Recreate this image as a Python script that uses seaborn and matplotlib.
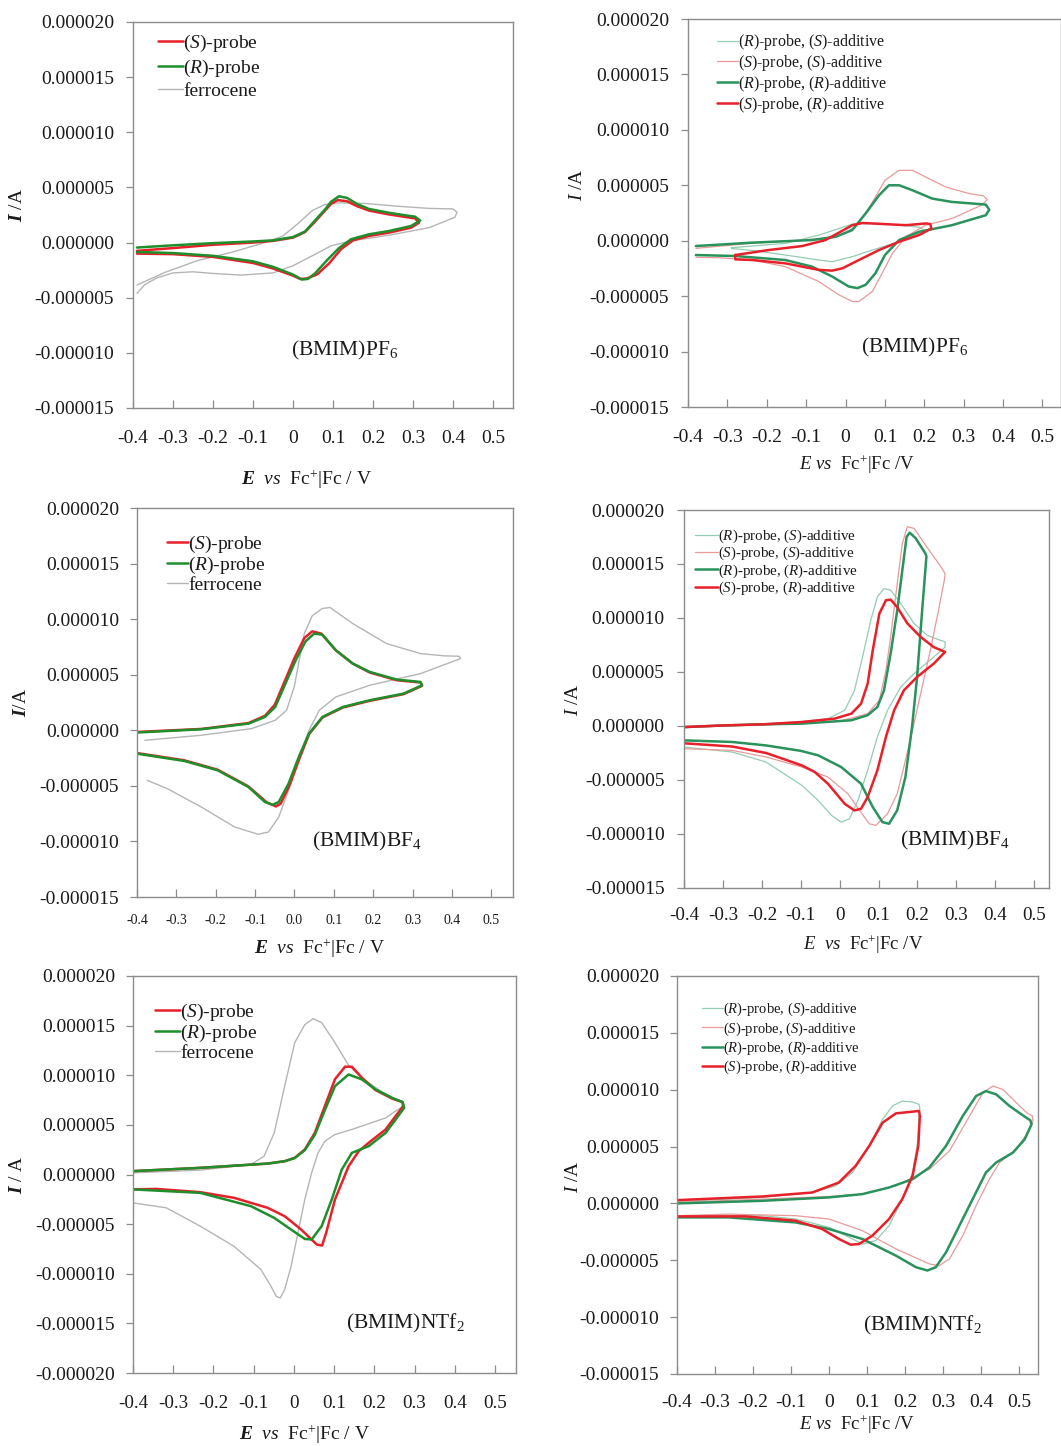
import numpy as np
import matplotlib
matplotlib.use("Agg")
import matplotlib.pyplot as plt
import seaborn as sns

# ---------------- data: E in V vs Fc+|Fc, I in microampere ----------------
# (BMIM)PF6, probes alone
pf6_S_E = [-0.39, -0.30, -0.20, -0.10, -0.05, 0.00, 0.03, 0.055, 0.08, 0.095, 0.112, 0.135, 0.16, 0.19, 0.24,
           0.285, 0.305, 0.315, 0.295, 0.24, 0.19, 0.15, 0.12, 0.09, 0.06, 0.035, 0.018, 0.00, -0.05, -0.10,
           -0.20, -0.30, -0.39]
pf6_S_I = [-0.75, -0.5, -0.2, 0.0, 0.15, 0.45, 0.95, 1.9, 2.9, 3.5, 3.85, 3.75, 3.3, 2.9, 2.55, 2.3, 2.2, 1.8,
           1.35, 0.9, 0.6, 0.2, -0.6, -1.9, -2.9, -3.25, -3.3, -3.0, -2.35, -1.85, -1.3, -1.05, -1.0]
pf6_R_E = [-0.39, -0.30, -0.20, -0.10, -0.05, 0.00, 0.03, 0.055, 0.08, 0.095, 0.115, 0.135, 0.16, 0.19, 0.24,
           0.285, 0.305, 0.318, 0.295, 0.24, 0.19, 0.145, 0.115, 0.085, 0.055, 0.037, 0.022, 0.00, -0.05, -0.10,
           -0.20, -0.30, -0.39]
pf6_R_I = [-0.45, -0.25, -0.05, 0.10, 0.20, 0.50, 1.00, 2.00, 3.00, 3.70, 4.20, 4.05, 3.50, 3.05, 2.70, 2.45,
           2.35, 2.00, 1.50, 1.05, 0.75, 0.30, -0.50, -1.60, -2.80, -3.30, -3.35, -2.90, -2.20, -1.70, -1.20,
           -0.95, -0.85]
pf6_fc_E = [-0.39, -0.32, -0.24, -0.15, -0.07, -0.025, 0.015, 0.048, 0.08, 0.113, 0.18, 0.26, 0.34, 0.40, 0.41,
            0.405, 0.34, 0.24, 0.145, 0.095, 0.048, 0.0, -0.05, -0.13, -0.20, -0.25, -0.30, -0.34, -0.37, -0.39]
pf6_fc_I = [-3.85, -2.7, -1.65, -0.85, 0.0, 0.6, 1.8, 2.9, 3.45, 3.6, 3.55, 3.3, 3.1, 3.05, 2.75,
            2.3, 1.35, 0.67, 0.15, -0.3, -1.2, -2.1, -2.75, -2.95, -2.8, -2.65, -2.75, -3.2, -3.8, -4.6]

# (BMIM)PF6, probe + additive
pf6_RS_E = [-0.29, -0.153, -0.068, -0.017, 0.017, 0.068, 0.144, 0.19, 0.20,
            0.186, 0.136, 0.068, 0.017, -0.034, -0.068, -0.153, -0.23, -0.29]
pf6_RS_I = [-0.63, -0.24, 0.5, 1.1, 1.5, 1.56, 1.4, 1.2, 0.9,
            0.66, -0.09, -0.84, -1.44, -1.89, -1.74, -1.29, -0.9, -0.7]
pf6_SS_E = [-0.38, -0.24, -0.11, -0.025, 0.025, 0.055, 0.08, 0.10, 0.136, 0.17, 0.203, 0.254, 0.314, 0.35, 0.36,
            0.345, 0.27, 0.203, 0.153, 0.119, 0.093, 0.068, 0.034, 0.017, -0.017, -0.068, -0.153, -0.237, -0.322,
            -0.38]
pf6_SS_I = [-0.69, -0.24, 0.06, 0.3, 1.2, 2.7, 4.2, 5.45, 6.35, 6.35, 5.75, 4.85, 4.25, 4.05, 3.7,
            3.2, 2.0, 1.4, 0.36, -1.14, -2.93, -4.58, -5.48, -5.48, -4.88, -3.68, -2.34, -1.74, -1.53, -1.5]
pf6_RR_E = [-0.38, -0.24, -0.085, -0.025, 0.017, 0.051, 0.085, 0.11, 0.136, 0.17, 0.22, 0.27, 0.356, 0.365,
            0.356, 0.27, 0.186, 0.136, 0.10, 0.076, 0.051, 0.03, 0.008, -0.034, -0.085, -0.153, -0.28, -0.38]
pf6_RR_I = [-0.48, -0.18, 0.06, 0.36, 0.96, 2.46, 4.1, 5.0, 5.0, 4.55, 3.8, 3.5, 3.26, 2.8,
            2.3, 1.4, 0.8, 0.06, -1.29, -2.93, -3.98, -4.28, -4.13, -3.23, -2.34, -1.74, -1.38, -1.29]
pf6_SR_E = [-0.28, -0.195, -0.11, -0.051, -0.008, 0.017, 0.042, 0.10, 0.153, 0.205, 0.215,
            0.218, 0.186, 0.136, 0.085, 0.034, -0.008, -0.034, -0.068, -0.153, -0.237, -0.28, -0.28]
pf6_SR_I = [-1.29, -0.84, -0.48, 0.06, 0.9, 1.4, 1.6, 1.5, 1.4, 1.56, 1.5,
            1.1, 0.5, -0.09, -0.84, -1.74, -2.49, -2.7, -2.63, -2.04, -1.74, -1.68, -1.29]

# (BMIM)BF4, probes alone
bf4_S_E = [-0.40, -0.237, -0.117, -0.075, -0.05, -0.025, 0.0, 0.025, 0.045, 0.068, 0.105, 0.148, 0.191, 0.26, 0.32,
           0.324, 0.277, 0.191, 0.123, 0.071, 0.037, 0.013, -0.012, -0.035, -0.047, -0.07, -0.117, -0.195, -0.28,
           -0.40]
bf4_S_I = [-0.15, 0.12, 0.65, 1.3, 2.3, 4.4, 6.5, 8.3, 8.9, 8.7, 7.2, 6.0, 5.2, 4.5, 4.3,
           4.0, 3.25, 2.65, 2.05, 1.15, -0.35, -2.5, -4.9, -6.6, -6.85, -6.5, -5.05, -3.55, -2.7, -2.05]
bf4_R_E = [-0.40, -0.237, -0.117, -0.075, -0.049, -0.023, 0.003, 0.028, 0.05, 0.071, 0.105, 0.148, 0.191, 0.26,
           0.32, 0.324, 0.277, 0.191, 0.123, 0.071, 0.037, 0.011, -0.015, -0.04, -0.055, -0.075, -0.117, -0.195,
           -0.28, -0.40]
bf4_R_I = [-0.2, 0.09, 0.6, 1.2, 2.1, 4.2, 6.3, 8.0, 8.7, 8.6, 7.2, 6.0, 5.25, 4.56, 4.35,
           4.05, 3.3, 2.7, 2.1, 1.2, -0.3, -2.4, -4.8, -6.45, -6.7, -6.45, -5.1, -3.6, -2.76, -2.1]
bf4_fc_E = [-0.38, -0.237, -0.109, -0.049, -0.02, 0.0, 0.012, 0.025, 0.045, 0.07, 0.09, 0.12, 0.148, 0.234, 0.32,
            0.38, 0.418, 0.422, 0.32, 0.191, 0.105, 0.063, 0.037, 0.011, -0.015, -0.04, -0.066, -0.092, -0.152,
            -0.237, -0.323, -0.374]
bf4_fc_I = [-0.9, -0.45, 0.15, 0.9, 1.8, 4.0, 6.3, 8.7, 10.3, 10.95, 11.05, 10.3, 9.6, 7.8, 6.9,
            6.7, 6.66, 6.45, 5.1, 4.05, 3.0, 1.8, 0.0, -2.4, -5.4, -7.8, -9.15, -9.36, -8.7, -6.9, -5.25, -4.5]

# (BMIM)BF4, probe + additive
bf4_RS_E = [-0.40, -0.30, -0.189, -0.10, -0.03, 0.013, 0.038, 0.059, 0.08, 0.097, 0.114, 0.131, 0.157, 0.191,
            0.225, 0.258, 0.271, 0.271, 0.242, 0.191, 0.157, 0.123, 0.097, 0.072, 0.047, 0.025, 0.004, -0.021,
            -0.055, -0.097, -0.189, -0.276, -0.40]
bf4_RS_I = [-0.1, 0.05, 0.22, 0.4, 0.68, 1.45, 3.3, 6.4, 9.8, 11.96, 12.73, 12.58, 11.34, 9.5, 8.4, 7.94, 7.8,
            7.3, 6.4, 4.85, 3.6, 1.45, -1.0, -4.1, -6.9, -8.6, -8.9, -8.28, -6.9, -5.5, -3.34, -2.41, -1.95]
bf4_SS_E = [-0.40, -0.30, -0.20, -0.10, 0.0, 0.072, 0.102, 0.119, 0.131, 0.148, 0.161, 0.174, 0.191, 0.212,
            0.242, 0.263, 0.271, 0.269, 0.254, 0.233, 0.212, 0.191, 0.169, 0.148, 0.123, 0.093, 0.076, 0.051,
            0.021, -0.03, -0.097, -0.189, -0.276, -0.40]
bf4_SS_I = [-0.15, 0.0, 0.1, 0.22, 0.45, 1.14, 2.38, 5.16, 8.25, 13.2, 16.9, 18.45, 18.3, 17.2, 15.67, 14.6,
            14.1, 13.5, 10.7, 7.0, 3.6, 0.22, -3.18, -6.27, -8.13, -9.2, -9.05, -7.8, -6.27, -4.73, -3.8, -2.87,
            -2.26, -2.1]
bf4_RR_E = [-0.40, -0.30, -0.20, -0.097, 0.03, 0.072, 0.097, 0.114, 0.131, 0.148, 0.161, 0.172, 0.18, 0.195,
            0.22, 0.223, 0.212, 0.199, 0.186, 0.169, 0.148, 0.127, 0.11, 0.085, 0.055, 0.004, -0.055, -0.1,
            -0.189, -0.276, -0.40]
bf4_RR_I = [-0.1, 0.05, 0.15, 0.22, 0.53, 1.0, 1.76, 3.3, 6.7, 10.7, 14.4, 17.5, 17.9, 17.4, 16.0, 15.7,
            10.7, 4.54, -0.1, -4.73, -7.8, -9.05, -8.9, -7.5, -5.35, -3.8, -2.72, -2.3, -1.8, -1.48, -1.33]
bf4_SR_E = [-0.40, -0.30, -0.20, -0.097, -0.013, 0.03, 0.055, 0.072, 0.085, 0.102, 0.119, 0.131, 0.148, 0.174,
            0.208, 0.242, 0.271, 0.242, 0.199, 0.165, 0.14, 0.119, 0.097, 0.072, 0.055, 0.038, 0.013, -0.03,
            -0.064, -0.097, -0.189, -0.276, -0.40]
bf4_SR_I = [-0.1, 0.05, 0.15, 0.37, 0.68, 1.14, 2.07, 3.92, 7.0, 10.4, 11.65, 11.7, 11.0, 9.5, 8.25, 7.3, 6.86,
            5.78, 4.54, 3.3, 1.45, -1.0, -4.1, -6.58, -7.66, -7.82, -7.2, -5.35, -4.26, -3.65, -2.5, -1.9, -1.6]

# (BMIM)NTf2, probes alone
ntf_S_E = [-0.40, -0.233, -0.065, -0.023, 0.002, 0.027, 0.052, 0.077, 0.102, 0.127, 0.144, 0.169, 0.203, 0.245,
           0.27, 0.272, 0.253, 0.228, 0.186, 0.161, 0.136, 0.102, 0.08, 0.07, 0.057, 0.018, -0.023, -0.065,
           -0.149, -0.233, -0.342, -0.40]
ntf_S_I = [0.34, 0.67, 1.1, 1.34, 1.68, 2.52, 4.2, 6.9, 9.6, 10.86, 10.86, 9.75, 8.5, 7.63, 7.3, 6.9,
           5.9, 4.54, 3.2, 2.35, 0.84, -2.52, -5.9, -7.16, -7.06, -5.55, -4.2, -3.36, -2.35, -1.78, -1.45, -1.5]
ntf_R_E = [-0.40, -0.233, -0.065, -0.023, 0.002, 0.027, 0.052, 0.077, 0.102, 0.136, 0.169, 0.203, 0.245, 0.27,
           0.274, 0.253, 0.228, 0.186, 0.144, 0.119, 0.094, 0.069, 0.044, 0.027, -0.007, -0.049, -0.107, -0.233,
           -0.40]
ntf_R_I = [0.34, 0.67, 1.1, 1.34, 1.65, 2.45, 4.0, 6.5, 8.9, 10.08, 9.58, 8.57, 7.7, 7.3,
           6.72, 5.55, 4.2, 2.86, 2.18, 0.5, -2.52, -5.2, -6.55, -6.49, -5.55, -4.37, -3.19, -1.85, -1.5]
ntf_fc_E = [-0.40, -0.233, -0.107, -0.074, -0.049, -0.023, 0.002, 0.027, 0.048, 0.069, 0.102, 0.136, 0.169, 0.22,
            0.27, 0.268, 0.228, 0.144, 0.102, 0.077, 0.06, 0.044, 0.027, 0.01, -0.007, -0.023, -0.034, -0.044,
            -0.057, -0.082, -0.149, -0.233, -0.317, -0.40]
ntf_fc_I = [0.17, 0.44, 1.0, 1.85, 4.2, 8.9, 13.28, 15.1, 15.7, 15.3, 13.28, 11.0, 9.7, 8.3, 7.2,
            6.8, 5.7, 4.54, 4.03, 3.36, 2.18, 0.17, -2.52, -5.88, -9.24, -11.6, -12.44, -12.27, -11.26, -9.58,
            -7.23, -5.2, -3.36, -2.86]

# (BMIM)NTf2, probe + additive
ntf_RS_E = [-0.40, -0.176, -0.044, 0.018, 0.062, 0.106, 0.141, 0.167, 0.193, 0.22, 0.237, 0.239,
            0.233, 0.22, 0.193, 0.158, 0.123, 0.088, 0.053, 0.0, -0.088, -0.176, -0.308, -0.40]
ntf_RS_I = [0.15, 0.53, 0.96, 1.55, 2.72, 5.06, 7.4, 8.57, 9.0, 8.92, 8.71, 8.42,
            5.35, 2.72, 0.38, -1.96, -3.27, -3.57, -2.98, -2.1, -1.37, -1.08, -1.02, -1.2]
ntf_SS_E = [-0.40, 0.0, 0.088, 0.176, 0.264, 0.317, 0.37, 0.405, 0.431, 0.457, 0.493, 0.52, 0.535, 0.537,
            0.52, 0.493, 0.449, 0.422, 0.387, 0.352, 0.317, 0.29, 0.264, 0.176, 0.088, 0.0, -0.088, -0.264, -0.40]
ntf_SS_I = [0.09, 0.61, 0.82, 1.55, 3.0, 4.62, 7.69, 9.74, 10.32, 10.03, 8.86, 7.98, 7.69, 7.2,
            6.08, 4.77, 3.6, 2.13, -0.2, -2.84, -4.88, -5.47, -5.32, -4.0, -2.4, -1.37, -1.08, -0.94, -1.08]
ntf_RR_E = [-0.40, -0.176, 0.0, 0.088, 0.158, 0.22, 0.264, 0.308, 0.352, 0.387, 0.413, 0.44, 0.475, 0.51, 0.53,
            0.533, 0.515, 0.484, 0.44, 0.413, 0.378, 0.343, 0.308, 0.281, 0.259, 0.229, 0.176, 0.088, 0.0, -0.088,
            -0.264, -0.40]
ntf_RR_I = [0.0, 0.23, 0.53, 0.82, 1.4, 2.13, 3.16, 5.06, 7.69, 9.44, 9.88, 9.59, 8.57, 7.75, 7.3,
            6.96, 5.64, 4.47, 3.6, 2.72, 0.38, -1.96, -4.3, -5.61, -5.9, -5.61, -4.59, -3.13, -2.25, -1.67,
            -1.23, -1.23]
ntf_SR_E = [-0.40, -0.176, -0.044, 0.026, 0.07, 0.106, 0.141, 0.176, 0.211, 0.237, 0.239,
            0.235, 0.22, 0.193, 0.158, 0.114, 0.079, 0.057, 0.026, -0.018, -0.088, -0.22, -0.40]
ntf_SR_I = [0.29, 0.61, 0.96, 1.84, 3.3, 5.06, 7.1, 7.92, 8.04, 8.13, 7.69,
            5.06, 2.43, 0.38, -1.37, -2.84, -3.57, -3.63, -3.13, -2.25, -1.52, -1.14, -1.14]

# ticks
x_ticks = [-0.4, -0.3, -0.2, -0.1, 0.0, 0.1, 0.2, 0.3, 0.4, 0.5]
x_labels = ["-0.4", "-0.3", "-0.2", "-0.1", "0", "0.1", "0.2", "0.3", "0.4", "0.5"]
x_labels_bf4 = ["-0.4", "-0.3", "-0.2", "-0.1", "0.0", "0.1", "0.2", "0.3", "0.4", "0.5"]
y_ticks = [-20, -15, -10, -5, 0, 5, 10, 15, 20]

lab_S = r"($\mathit{S}$)-probe"
lab_R = r"($\mathit{R}$)-probe"
lab_fc = "ferrocene"
lab_RS = r"($\mathit{R}$)-probe, ($\mathit{S}$)-additive"
lab_SS = r"($\mathit{S}$)-probe, ($\mathit{S}$)-additive"
lab_RR = r"($\mathit{R}$)-probe, ($\mathit{R}$)-additive"
lab_SR = r"($\mathit{S}$)-probe, ($\mathit{R}$)-additive"

# ---------------- style ----------------
sns.set_theme(style="white")
plt.rcParams["font.family"] = ["Liberation Serif", "DejaVu Serif"]
plt.rcParams["mathtext.fontset"] = "custom"
plt.rcParams["mathtext.rm"] = "Liberation Serif"
plt.rcParams["mathtext.it"] = "Liberation Serif:italic"
plt.rcParams["mathtext.bf"] = "Liberation Serif:bold"
plt.rcParams["mathtext.bfit"] = "Liberation Serif:italic:bold"
plt.rcParams["text.color"] = "#1a1a1a"

RED = "#e8202a"
GREEN_L = "#1f8f2c"
GREEN_R = "#2a925c"
LGREEN = "#93cdb2"
LRED = "#e99a9a"
GRAY = "#b5b5b5"
SPINE = "#8c8c8c"

W, H = 1061, 1446
fig = plt.figure(figsize=(W / 100, H / 100), dpi=100)


def px_axes(box):
    l, r, t, b = box
    return fig.add_axes([l / W, 1 - b / H, (r - l) / W, (b - t) / H])


def curve(ax, e, i, color, lw, label):
    sns.lineplot(x=np.asarray(e), y=np.asarray(i) * 1e-6, sort=False, estimator=None,
                 color=color, linewidth=lw, ax=ax, legend=False)
    line = ax.lines[-1]
    line.set_label(label)
    line.set_solid_joinstyle("round")
    line.set_solid_capstyle("round")
    return line


def style(ax, p):
    ax.set_xlim(-0.4, p["xmax"])
    ax.set_ylim(p["ymin"] * 1e-6, 20e-6)
    ax.set_xticks(x_ticks, p["xlab"])
    yt = [v for v in y_ticks if v >= p["ymin"]]
    ax.set_yticks([v * 1e-6 for v in yt], ["%.6f" % (v * 1e-6) for v in yt])
    ax.set_xlabel("")
    ax.set_ylabel("")
    for s in ax.spines.values():
        s.set_color(SPINE)
        s.set_linewidth(1.0)
        s.set_visible(True)
    ax.tick_params(axis="x", direction="in", length=6, width=0.9, color=SPINE, bottom=True, top=False,
                   pad=p["xpad"], labelsize=p["xfs"], labelcolor="#1a1a1a")
    ax.tick_params(axis="y", direction="out", length=5, width=0.9, color=SPINE, left=True, right=False,
                   pad=p["ypad"], labelsize=14, labelcolor="#1a1a1a")
    ax.grid(False)


def legend(ax, p, handles):
    l, r, t, b = p["box"]
    fs = p["lfs"]
    fpx = fs / 0.72
    top = p["lrow"] - 0.62 * fpx
    ax.legend(handles=handles, loc="upper left",
              bbox_to_anchor=((p["lx"] - l) / (r - l), (b - top) / (b - t)),
              frameon=False, fontsize=fs, handlelength=p["hl"] / fpx, handletextpad=0.0,
              borderpad=0, borderaxespad=0, labelspacing=p["lsp"] / fpx - 1.2)


def ftext(x, y, s, **kw):
    fig.text(x / W, 1 - y / H, s, ha="center", va="center", **kw)


panels = [
    dict(box=(133, 513, 22, 408), xmax=0.55, ymin=-15, xlab=x_labels, xpad=16, xfs=14, ypad=8.6,
         lx=158, lrow=45, lsp=27, lfs=14, hl=25, name="(BMIM)PF$_6$", nxy=(345, 350),
         ylab=r"$\mathbfit{I}$ /A", yxy=(18, 205), xl=r"$\mathbfit{E}$  $\mathit{vs}$  Fc$^{+}$|Fc / V",
         xxy=(307, 480)),
    dict(box=(688, 1061, 19, 407), xmax=0.547, ymin=-15, xlab=x_labels, xpad=16, xfs=14, ypad=8.6,
         lx=717, lrow=42, lsp=20, lfs=11.5, hl=21, name="(BMIM)PF$_6$", nxy=(915, 347),
         ylab=r"$\mathit{I}$ /A", yxy=(577, 185), xl=r"$\mathit{E}$ $\mathit{vs}$  Fc$^{+}$|Fc /V",
         xxy=(857, 465)),
    dict(box=(137, 513, 508, 897), xmax=0.555, ymin=-15, xlab=x_labels_bf4, xpad=12.6, xfs=10, ypad=8,
         lx=167, lrow=546, lsp=23.5, lfs=14, hl=21, name="(BMIM)BF$_4$", nxy=(367, 841),
         ylab=r"$\mathbfit{I}$/A", yxy=(22, 702), xl=r"$\mathbfit{E}$  $\mathit{vs}$  Fc$^{+}$|Fc / V",
         xxy=(320, 949)),
    dict(box=(684, 1049, 510, 888), xmax=0.538, ymin=-15, xlab=x_labels, xpad=13.5, xfs=13.7, ypad=9,
         lx=695, lrow=537, lsp=18, lfs=10.8, hl=23, name="(BMIM)BF$_4$", nxy=(955, 840),
         ylab=r"$\mathit{I}$ /A", yxy=(573, 700), xl=r"$\mathit{E}$  $\mathit{vs}$  Fc$^{+}$|Fc /V",
         xxy=(863, 945)),
    dict(box=(133, 516, 976, 1373), xmax=0.552, ymin=-20, xlab=x_labels, xpad=15.5, xfs=13.7, ypad=8,
         lx=155, lrow=1014, lsp=23.5, lfs=14, hl=25, name="(BMIM)NTf$_2$", nxy=(405, 1323),
         ylab=r"$\mathbfit{I}$ / A", yxy=(18, 1175), xl=r"$\mathbfit{E}$  $\mathit{vs}$  Fc$^{+}$|Fc / V",
         xxy=(305, 1435)),
    dict(box=(677, 1038, 976, 1374), xmax=0.55, ymin=-15, xlab=x_labels, xpad=14.5, xfs=14, ypad=8,
         lx=702, lrow=1010, lsp=19.5, lfs=10.5, hl=21, name="(BMIM)NTf$_2$", nxy=(922, 1325),
         ylab=r"$\mathit{I}$ /A", yxy=(573, 1177), xl=r"$\mathit{E}$ $\mathit{vs}$  Fc$^{+}$|Fc /V",
         xxy=(857, 1425)),
]

left_sets = [
    (pf6_S_E, pf6_S_I, pf6_R_E, pf6_R_I, pf6_fc_E, pf6_fc_I),
    (bf4_S_E, bf4_S_I, bf4_R_E, bf4_R_I, bf4_fc_E, bf4_fc_I),
    (ntf_S_E, ntf_S_I, ntf_R_E, ntf_R_I, ntf_fc_E, ntf_fc_I),
]
right_sets = [
    (pf6_RS_E, pf6_RS_I, pf6_SS_E, pf6_SS_I, pf6_RR_E, pf6_RR_I, pf6_SR_E, pf6_SR_I),
    (bf4_RS_E, bf4_RS_I, bf4_SS_E, bf4_SS_I, bf4_RR_E, bf4_RR_I, bf4_SR_E, bf4_SR_I),
    (ntf_RS_E, ntf_RS_I, ntf_SS_E, ntf_SS_I, ntf_RR_E, ntf_RR_I, ntf_SR_E, ntf_SR_I),
]

for row in range(3):
    # left: probes alone with ferrocene
    p = panels[2 * row]
    ax = px_axes(p["box"])
    sE, sI, rE, rI, fE, fI = left_sets[row]
    h_fc = curve(ax, fE, fI, GRAY, 1.0, lab_fc)
    h_s = curve(ax, sE, sI, RED, 1.8, lab_S)
    h_r = curve(ax, rE, rI, GREEN_L, 1.8, lab_R)
    style(ax, p)
    legend(ax, p, [h_s, h_r, h_fc])
    ftext(*p["nxy"], p["name"], fontsize=15.5)
    ftext(*p["yxy"], p["ylab"], fontsize=14, rotation=90)
    ftext(*p["xxy"], p["xl"], fontsize=14)

    # right: probe + additive
    p = panels[2 * row + 1]
    ax = px_axes(p["box"])
    a, b, c, d, e, f, g, h = right_sets[row]
    h1 = curve(ax, a, b, LGREEN, 0.9, lab_RS)
    h2 = curve(ax, c, d, LRED, 0.9, lab_SS)
    h3 = curve(ax, e, f, GREEN_R, 1.8, lab_RR)
    h4 = curve(ax, g, h, RED, 1.8, lab_SR)
    style(ax, p)
    legend(ax, p, [h1, h2, h3, h4])
    ftext(*p["nxy"], p["name"], fontsize=15.5)
    ftext(*p["yxy"], p["ylab"], fontsize=14, rotation=90)
    ftext(*p["xxy"], p["xl"], fontsize=13.5)

fig.savefig("out.png", dpi=100)
